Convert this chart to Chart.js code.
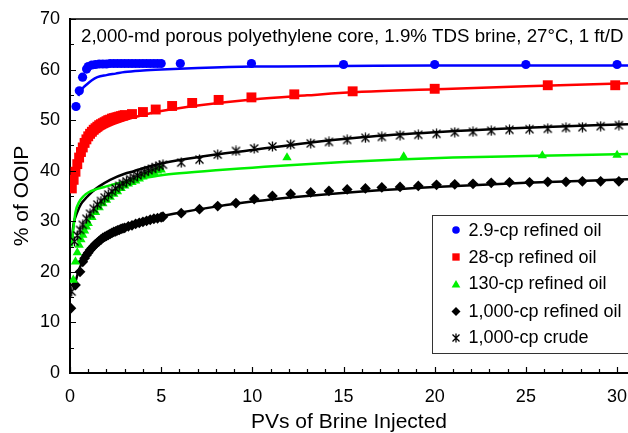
<!DOCTYPE html>
<html>
<head>
<meta charset="utf-8">
<script src="https://cdn.jsdelivr.net/npm/chart.js@4.4.1/dist/chart.umd.min.js"></script>
<style>
  html, body { margin: 0; padding: 0; background: #fff; }
  #chart { display: block; }
</style>
</head>
<body>
<canvas id="chart" width="628" height="433"></canvas>
<script>
// recovery (% of OOIP) vs pore volumes of brine injected

// 2.9-cp refined oil
const oil29X = [0.33, 0.51, 0.69, 0.91, 1.0, 1.2, 1.4, 1.6, 1.8, 2.0, 2.2, 2.4, 2.6, 2.8, 3.0, 3.2, 3.4, 3.6, 3.8, 4.0, 4.2, 4.4, 4.6, 4.8, 5.0, 6.05, 9.95, 15.0, 20.0, 25.0, 30.0];
const oil29Y = [52.7, 55.8, 58.5, 60.1, 60.6, 60.9, 61.0, 61.1, 61.1, 61.1, 61.2, 61.2, 61.2, 61.2, 61.2, 61.2, 61.2, 61.2, 61.2, 61.2, 61.2, 61.2, 61.2, 61.2, 61.2, 61.2, 61.2, 61.0, 61.0, 61.0, 61.0];
const fit29X = [0.45, 0.7, 0.9, 1.2, 1.5, 2, 2.5, 3, 4, 5, 7, 10, 15, 20, 30.6];
const fit29Y = [54.8, 56.3, 57.0, 57.9, 58.5, 58.9, 59.2, 59.5, 59.8, 60.0, 60.3, 60.6, 60.7, 60.8, 60.8];

// 28-cp refined oil
const oil28X = [0.1, 0.2, 0.3, 0.4, 0.5, 0.6, 0.7, 0.8, 0.9, 1.0, 1.1, 1.2, 1.3, 1.4, 1.5, 1.6, 1.7, 1.8, 1.9, 2.0, 2.1, 2.2, 2.3, 2.4, 2.5, 2.6, 2.7, 2.8, 2.9, 3.0, 3.4, 4.0, 4.7, 5.6, 6.7, 8.15, 9.95, 12.3, 15.5, 20.0, 26.2, 29.9];
const oil28Y = [36.5, 38.2, 39.8, 41.3, 42.6, 43.7, 44.6, 45.5, 46.2, 46.8, 47.3, 47.7, 48.1, 48.4, 48.7, 49.0, 49.2, 49.4, 49.6, 49.8, 50.0, 50.1, 50.3, 50.4, 50.5, 50.6, 50.7, 50.8, 50.9, 51.0, 51.2, 51.6, 52.1, 52.8, 53.4, 54.0, 54.5, 55.1, 55.7, 56.2, 56.9, 56.9];
const fit28X = [0.1, 0.3, 0.5, 0.75, 1, 1.5, 2, 3, 4, 5, 7, 10, 13, 16, 20, 25, 30.6];
const fit28Y = [36.5, 39.5, 42.0, 44.3, 45.7, 47.5, 48.6, 50.0, 51.0, 51.8, 52.9, 54.1, 54.9, 55.6, 56.1, 56.7, 57.3];

// 130-cp refined oil
const oil130X = [0.18, 0.3, 0.4, 0.5, 0.6, 0.7, 0.8, 0.9, 1.0, 1.2, 1.4, 1.6, 1.8, 2.0, 2.2, 2.4, 2.6, 2.8, 3.0, 3.2, 3.4, 3.6, 3.8, 4.0, 4.2, 4.4, 4.6, 4.8, 5.0, 11.9, 18.3, 25.9, 30.0];
const oil130Y = [18.4, 22.0, 23.8, 25.3, 26.4, 27.3, 28.1, 28.9, 29.6, 30.8, 31.8, 32.7, 33.5, 34.2, 34.8, 35.4, 35.9, 36.5, 37.0, 37.4, 37.7, 38.0, 38.4, 38.8, 39.1, 39.4, 39.7, 40.0, 40.2, 42.6, 42.8, 43.0, 43.1];
const fit130X = [0.1, 0.2, 0.3, 0.5, 0.75, 1, 1.5, 2, 3, 4, 5, 6, 8, 10, 12, 15, 18, 21, 25, 30.6];
const fit130Y = [25.0, 29.0, 31.8, 33.8, 35.0, 35.7, 36.4, 36.9, 37.8, 38.5, 39.1, 39.5, 40.1, 40.6, 41.1, 41.7, 42.2, 42.6, 42.9, 43.3];

// 1,000-cp refined oil
const oil1000X = [0.05, 0.3, 0.55, 0.7, 0.8, 0.9, 1.0, 1.1, 1.2, 1.3, 1.4, 1.5, 1.6, 1.7, 1.8, 1.9, 2.0, 2.1, 2.2, 2.3, 2.4, 2.5, 2.6, 2.7, 2.8, 2.9, 3.0, 3.2, 3.4, 3.6, 3.8, 4.0, 4.2, 4.4, 4.6, 4.8, 5.0, 5.1, 6.1, 7.1, 8.1, 9.1, 10.1, 11.1, 12.1, 13.2, 14.2, 15.2, 16.2, 17.1, 18.1, 19.1, 20.1, 21.1, 22.1, 23.1, 24.1, 25.2, 26.2, 27.2, 28.1, 29.1, 30.1];
const oil1000Y = [12.8, 17.4, 20.0, 22.0, 22.7, 23.3, 23.8, 24.3, 24.7, 25.1, 25.5, 25.8, 26.1, 26.4, 26.7, 26.9, 27.1, 27.3, 27.5, 27.7, 27.9, 28.0, 28.2, 28.3, 28.5, 28.6, 28.7, 29.0, 29.2, 29.5, 29.7, 29.9, 30.1, 30.3, 30.5, 30.6, 30.8, 30.9, 31.6, 32.4, 33.0, 33.6, 34.4, 35.0, 35.4, 35.7, 36.0, 36.3, 36.5, 36.7, 36.8, 37.0, 37.2, 37.3, 37.4, 37.6, 37.7, 37.7, 37.8, 37.8, 37.9, 37.9, 37.9];
const fit1000X = [0.2, 0.3, 0.5, 0.8, 1.2, 2, 3, 4, 5, 6, 8, 10, 13, 16, 20, 25, 30.6];
const fit1000Y = [16.5, 18.0, 20.5, 22.8, 24.8, 27.2, 28.9, 30.1, 31.0, 31.7, 32.9, 33.9, 35.0, 35.9, 36.8, 37.6, 38.3];

// 1,000-cp crude
const crudeX = [0.09, 0.25, 0.4, 0.55, 0.7, 0.9, 1.1, 1.3, 1.5, 1.7, 1.9, 2.1, 2.3, 2.5, 2.7, 2.9, 3.1, 3.3, 3.5, 3.7, 3.9, 4.1, 4.3, 4.5, 4.7, 4.9, 5.1, 6.1, 7.1, 8.1, 9.1, 10.1, 11.1, 12.1, 13.2, 14.2, 15.2, 16.2, 17.1, 18.1, 19.1, 20.1, 21.1, 22.1, 23.1, 24.1, 25.2, 26.2, 27.2, 28.1, 29.1, 30.1];
const crudeY = [16.1, 26.0, 27.2, 28.3, 29.3, 30.5, 31.5, 32.5, 33.3, 34.0, 34.7, 35.3, 35.9, 36.5, 37.0, 37.5, 37.9, 38.3, 38.7, 39.1, 39.4, 39.8, 40.1, 40.4, 40.7, 41.0, 41.2, 41.6, 42.2, 43.2, 43.9, 44.4, 44.8, 45.2, 45.4, 45.7, 46.1, 46.5, 46.7, 47.0, 47.1, 47.3, 47.6, 47.7, 47.9, 48.1, 48.2, 48.3, 48.5, 48.6, 48.8, 49.0];
const fitCrudeX = [0.1, 0.2, 0.4, 0.6, 0.9, 1.2, 1.6, 2.2, 3, 3.5, 4, 5, 6, 8, 10, 13, 16, 20, 25, 30.6];
const fitCrudeY = [26.5, 29.5, 31.8, 33.4, 34.7, 35.8, 36.9, 38.2, 39.4, 39.9, 40.5, 41.4, 42.1, 43.2, 44.1, 45.5, 46.6, 47.6, 48.5, 49.2];

const xTicks = [0, 1, 2, 3, 4, 5, 6, 7, 8, 9, 10, 11, 12, 13, 14, 15, 16, 17, 18, 19, 20, 21, 22, 23, 24, 25, 26, 27, 28, 29, 30];
const yTicks = [0, 5, 10, 15, 20, 25, 30, 35, 40, 45, 50, 55, 60, 65, 70];

const noteText = '2,000-md porous polyethylene core, 1.9% TDS brine, 27°C, 1 ft/D';
const FONT = "'Liberation Sans', Arial, Helvetica, sans-serif";

const BLUE = '#0000ff', RED = '#ff0000', GREEN = '#00f000', BLACK = '#000000';

const pts = (xs, ys) => xs.map((x, i) => ({ x: x, y: ys[i] }));

// X-with-vertical-bar marker used for the crude
function crudeMarker(size) {
  const cv = document.createElement('canvas');
  cv.width = size; cv.height = size;
  const c = cv.getContext('2d');
  const m = 1.5, e = size - 1.5, mid = size / 2;
  c.strokeStyle = BLACK;
  c.lineWidth = 1.3;
  c.beginPath();
  c.moveTo(m, m); c.lineTo(e, e);
  c.moveTo(e, m); c.lineTo(m, e);
  c.moveTo(mid, 0.5); c.lineTo(mid, size - 0.5);
  c.stroke();
  return cv;
}
const crudeMark = crudeMarker(11);
const crudeMarkSmall = crudeMarker(10);

function markers(data, style, color, radius) {
  return {
    data: data, showLine: false, order: 0,
    pointStyle: style, pointRadius: radius, pointHoverRadius: radius,
    pointBackgroundColor: color, pointBorderColor: color, pointBorderWidth: 0
  };
}
function fitLine(data, color) {
  return {
    data: data, showLine: true, order: 1,
    pointRadius: 0, pointHoverRadius: 0,
    borderColor: color, borderWidth: 2.5,
    cubicInterpolationMode: 'monotone'
  };
}

// frame: top border and inward tick marks
const frame = {
  id: 'frame',
  afterDraw(chart) {
    const { ctx, chartArea: a, scales: { x, y } } = chart;
    ctx.save();
    ctx.strokeStyle = BLACK;
    ctx.lineWidth = 1.5;
    ctx.beginPath();
    ctx.moveTo(a.left, a.top);
    ctx.lineTo(a.right, a.top);
    ctx.stroke();
    ctx.lineWidth = 1.2;
    ctx.beginPath();
    xTicks.forEach(v => {
      const px = Math.round(x.getPixelForValue(v)) + 0.5;
      const len = v % 5 === 0 ? 6 : 4;
      ctx.moveTo(px, a.bottom);
      ctx.lineTo(px, a.bottom - len);
    });
    yTicks.forEach(v => {
      const py = Math.round(y.getPixelForValue(v)) + 0.5;
      const len = v % 10 === 0 ? 6 : 4;
      ctx.moveTo(a.left, py);
      ctx.lineTo(a.left + len, py);
    });
    ctx.stroke();
    ctx.restore();
  }
};

// test-conditions note and the boxed legend
const labels = {
  id: 'labels',
  afterDraw(chart) {
    const ctx = chart.ctx;
    ctx.save();
    ctx.fillStyle = BLACK;
    ctx.textBaseline = 'alphabetic';
    ctx.textAlign = 'left';
    ctx.font = '18.7px ' + FONT;
    ctx.fillText(noteText, 81, 41.5);

    ctx.fillStyle = '#fff';
    ctx.fillRect(432.5, 215.5, 220, 138);
    ctx.strokeStyle = '#333';
    ctx.lineWidth = 1;
    ctx.strokeRect(432.5, 215.5, 220, 138);

    const rows = [
      { text: '2.9-cp refined oil', style: 'circle', color: BLUE, r: 3.8, my: 230, ty: 236 },
      { text: '28-cp refined oil', style: 'rect', color: RED, r: 5.2, my: 257, ty: 263 },
      { text: '130-cp refined oil', style: 'triangle', color: GREEN, r: 5, my: 285, ty: 289 },
      { text: '1,000-cp refined oil', style: 'rectRot', color: BLACK, r: 4.5, my: 311.5, ty: 317 },
      { text: '1,000-cp crude', style: crudeMarkSmall, color: BLACK, r: 5, my: 338, ty: 343 }
    ];
    ctx.font = '18px ' + FONT;
    rows.forEach(row => {
      ctx.fillStyle = row.color;
      ctx.strokeStyle = row.color;
      Chart.helpers.drawPoint(ctx, { pointStyle: row.style, radius: row.r, rotation: 0, borderWidth: 0 }, 456, row.my);
      ctx.fillStyle = BLACK;
      ctx.fillText(row.text, 468.5, row.ty);
    });
    ctx.restore();
  }
};

new Chart(document.getElementById('chart'), {
  type: 'scatter',
  data: {
    datasets: [
      markers(pts(oil29X, oil29Y), 'circle', BLUE, 4.6),
      markers(pts(oil28X, oil28Y), 'rect', RED, 7),
      markers(pts(crudeX, crudeY), crudeMark, BLACK, 5),
      markers(pts(oil130X, oil130Y), 'triangle', GREEN, 5.4),
      markers(pts(oil1000X, oil1000Y), 'rectRot', BLACK, 5.4),
      fitLine(pts(fit29X, fit29Y), BLUE),
      fitLine(pts(fit28X, fit28Y), RED),
      fitLine(pts(fit130X, fit130Y), GREEN),
      fitLine(pts(fit1000X, fit1000Y), BLACK),
      fitLine(pts(fitCrudeX, fitCrudeY), BLACK)
    ]
  },
  options: {
    responsive: false,
    animation: false,
    events: [],
    layout: { autoPadding: false, padding: { top: 19, right: 0, bottom: 0, left: 0 } },
    plugins: { legend: { display: false }, tooltip: { enabled: false } },
    scales: {
      x: {
        type: 'linear', min: 0, max: 30.6,
        afterFit(s) { s.height = 60; s.paddingLeft = 0; s.paddingRight = 0; },
        grid: { display: false, drawTicks: false },
        border: { display: true, color: BLACK, width: 2 },
        ticks: { stepSize: 5, includeBounds: false, padding: 13, color: BLACK, font: { family: FONT, size: 18 } },
        title: { display: true, text: 'PVs of Brine Injected', color: BLACK, padding: 0, font: { family: FONT, size: 21, lineHeight: 1 } }
      },
      y: {
        type: 'linear', min: 0, max: 70,
        afterFit(s) { s.width = 70; s.paddingTop = 0; s.paddingBottom = 0; },
        grid: { display: false, drawTicks: false },
        border: { display: true, color: BLACK, width: 2 },
        ticks: { stepSize: 10, padding: 10, color: BLACK, font: { family: FONT, size: 18 } },
        title: { display: true, text: '% of OOIP', color: BLACK, padding: { top: 11.5, bottom: 0 }, font: { family: FONT, size: 21, lineHeight: 1 } }
      }
    }
  },
  plugins: [frame, labels]
});
</script>
</body>
</html>
